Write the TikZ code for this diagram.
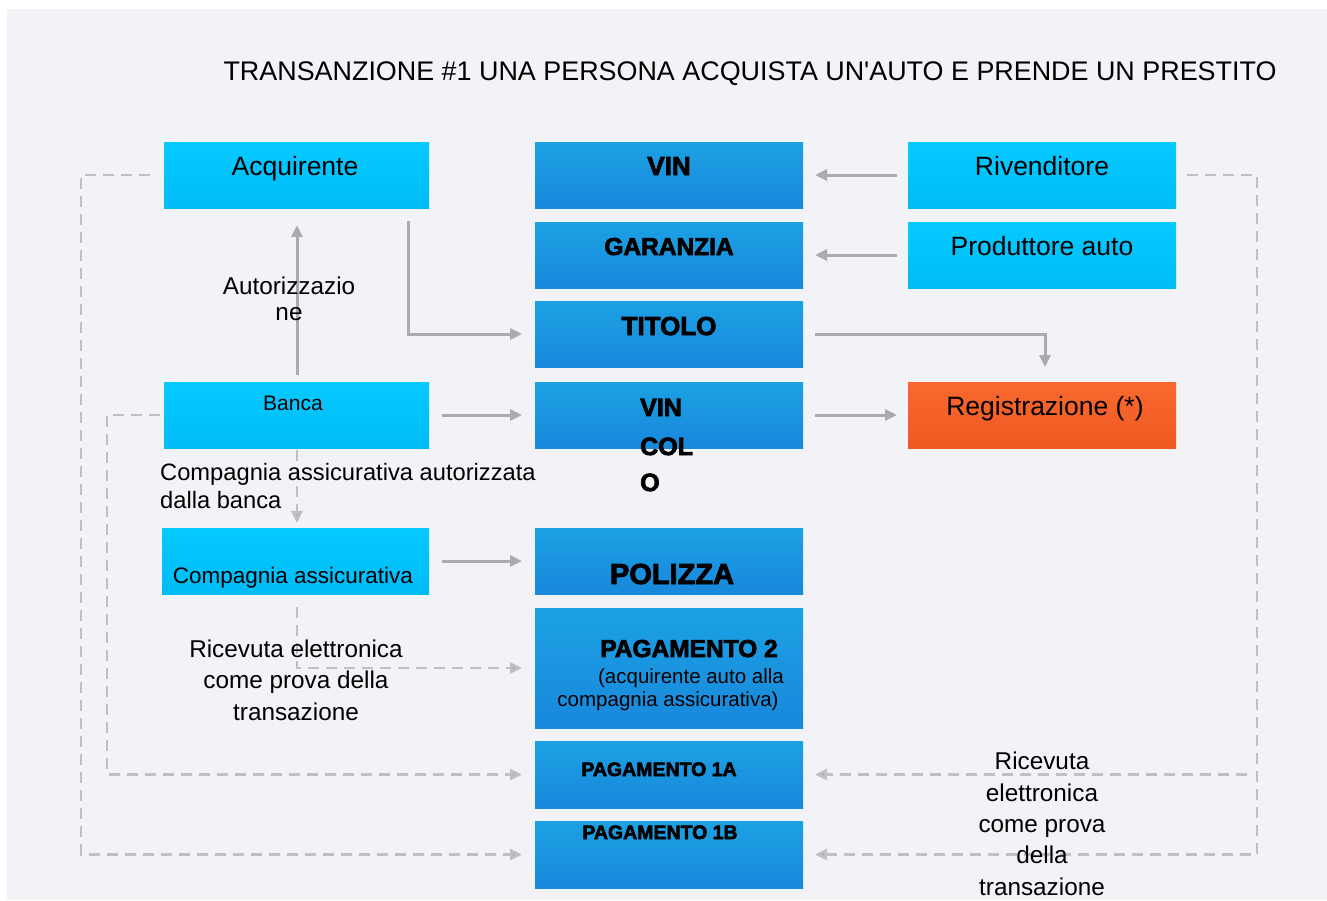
\documentclass[tikz,border=0pt]{standalone}
\usepackage{fontspec}
\setmainfont{Liberation Sans}
\newfontfamily\heavy[FakeBold=3]{Liberation Sans Bold}
\usetikzlibrary{arrows.meta}
\definecolor{bg}{HTML}{F2F3F7}
\definecolor{lbtop}{HTML}{05CAFF}
\definecolor{lbbot}{HTML}{00BBF6}
\definecolor{mbtop}{HTML}{1CA1E3}
\definecolor{mbbot}{HTML}{1888DC}
\definecolor{ortop}{HTML}{F8682F}
\definecolor{orbot}{HTML}{F05A22}
\definecolor{sline}{HTML}{ABABAE}
\definecolor{dline}{HTML}{C0C0C2}
\begin{document}
\begin{tikzpicture}[x=1pt,y=-1pt,
  boxbase/.style={rectangle,inner sep=0pt,outer sep=0pt,anchor=north west,draw=none},
  lbox/.style={boxbase,top color=lbtop,bottom color=lbbot},
  mbox/.style={boxbase,top color=mbtop,bottom color=mbbot},
  obox/.style={boxbase,top color=ortop,bottom color=orbot},
  txt/.style={anchor=base,inner sep=0pt,text=black},
  bigtxt/.style={txt,font=\fontsize{26.5}{30}\selectfont},
  lbltxt/.style={txt,font=\fontsize{24.3}{30}\selectfont},
  heavytxt/.style={txt,font=\heavy\fontsize{26}{30}\selectfont},
  sarr/.style={draw=sline,line width=3pt,-{Triangle[length=12pt,width=11pt]}},
  darr/.style={draw=dline,line width=2.8pt,dash pattern=on 11pt off 7pt,-{Triangle[length=12pt,width=11pt,fill=sline]}}
]
\useasboundingbox (0,0) rectangle (1327,900);
\fill[white] (0,0) rectangle (1327,900);
\fill[bg] (7,9) rectangle (1327,900);

% title
\node[bigtxt,font=\fontsize{26.9}{30}\selectfont] (title) at (750,80) {TRANSANZIONE \#1 UNA PERSONA ACQUISTA UN\textquotesingle AUTO E PRENDE UN PRESTITO};

% left boxes
\node[lbox,minimum width=265pt,minimum height=66pt] (acq) at (164,142) {};
\node[lbox,minimum width=265pt,minimum height=66pt] (banca) at (164,382) {};
\node[lbox,minimum width=267pt,minimum height=66pt] (comp) at (162,528) {};
% middle boxes
\node[mbox,minimum width=268pt,minimum height=66pt] (vin) at (535,142) {};
\node[mbox,minimum width=268pt,minimum height=66pt] (gar) at (535,222) {};
\node[mbox,minimum width=268pt,minimum height=66pt] (tit) at (535,301) {};
\node[mbox,minimum width=268pt,minimum height=66pt] (vinc) at (535,382) {};
\node[mbox,minimum width=268pt,minimum height=66pt] (pol) at (535,528) {};
\node[mbox,minimum width=268pt,minimum height=120pt] (pag2) at (535,608) {};
\node[mbox,minimum width=268pt,minimum height=67pt] (pag1a) at (535,741) {};
\node[mbox,minimum width=268pt,minimum height=67pt] (pag1b) at (535,821) {};
% right boxes
\node[lbox,minimum width=268pt,minimum height=66pt] (riv) at (908,142) {};
\node[lbox,minimum width=268pt,minimum height=66pt] (prod) at (908,222) {};
\node[obox,minimum width=268pt,minimum height=66pt] (reg) at (908,382) {};

% box texts
\node[bigtxt] (tacq) at (295,175) {Acquirente};
\node[txt,font=\fontsize{21}{24}\selectfont] (tbanca) at (293,410) {Banca};
\node[txt,font=\fontsize{22.5}{26}\selectfont] (tcomp) at (293,583) {Compagnia assicurativa};
\node[heavytxt] (tvin) at (669,175) {VIN};
\node[heavytxt,font=\heavy\fontsize{24.5}{30}\selectfont] (tgar) at (669,255) {GARANZIA};
\node[heavytxt] (ttit) at (669,335) {TITOLO};
\node[heavytxt,anchor=base west,font=\heavy\fontsize{25}{30}\selectfont] (tvinc1) at (640,416) {VIN};
\node[heavytxt,anchor=base west,font=\heavy\fontsize{25}{30}\selectfont] (tvinc2) at (640,455) {COL};
\node[heavytxt,anchor=base west,font=\heavy\fontsize{25}{30}\selectfont] (tvinc3) at (640,491) {O};
\node[heavytxt,font=\heavy\fontsize{29}{32}\selectfont] (tpol) at (672,584) {POLIZZA};
\node[heavytxt,font=\heavy\fontsize{24.5}{30}\selectfont] (tpag2) at (689,657) {PAGAMENTO 2};
\node[txt,font=\fontsize{20.5}{24}\selectfont] (tpag2b) at (691,683) {(acquirente auto alla};
\node[txt,font=\fontsize{20.5}{24}\selectfont] (tpag2c) at (668,706) {compagnia assicurativa)};
\node[heavytxt,font=\heavy\fontsize{19.5}{24}\selectfont] (tpag1a) at (659,776) {PAGAMENTO 1A};
\node[heavytxt,font=\heavy\fontsize{19.5}{24}\selectfont] (tpag1b) at (660,839) {PAGAMENTO 1B};
\node[bigtxt] (triv) at (1042,175) {Rivenditore};
\node[bigtxt] (tprod) at (1042,255) {Produttore auto};
\node[bigtxt] (treg) at (1045,415) {Registrazione (*)};

% connector coordinates
\coordinate (lc1) at (81,0);
\coordinate (lc2) at (107,0);
\coordinate (rc) at (1257,0);

% solid connectors
\draw[sarr,shorten <=11pt,shorten >=12pt] (riv.west) -- (vin.east);
\draw[sarr,shorten <=11pt,shorten >=12pt] (prod.west) -- (gar.east);
\draw[sarr,shorten <=13pt,shorten >=13pt] ([xshift=-21pt]acq.south east) |- (tit.west);
\draw[sarr,shorten <=12pt,shorten >=15pt] (tit.east) -| ([xshift=3pt]reg.north);
\draw[sarr,shorten <=13pt,shorten >=13pt] (banca.east) -- (vinc.west);
\draw[sarr,shorten <=12pt,shorten >=11pt] (vinc.east) -- (reg.west);
\draw[sarr,shorten <=7pt,shorten >=17pt] ([xshift=0.5pt]banca.north) -- ([xshift=0.5pt]acq.south);
\draw[sarr,shorten <=13pt,shorten >=13pt] (comp.east) -- (pol.west);

% dashed connectors
\draw[darr,shorten <=2pt,shorten >=5pt] ([xshift=0.5pt]banca.south) -- ([xshift=0.5pt]banca.south |- comp.north);
\draw[darr,shorten <=13pt,shorten >=13pt] ([xshift=1.5pt]comp.south) |- (pag2.west);
\draw[darr,shorten <=14pt,shorten >=13pt] (acq.west) -- (acq.west -| lc1) |- (pag1b.west);
\draw[darr,shorten <=4pt,shorten >=13pt] (banca.west) -- (banca.west -| lc2) |- (pag1a.west);
\draw[darr,shorten <=11pt,shorten >=12pt] (riv.east) -- (riv.east -| rc) |- (pag1b.east);
\draw[darr,shorten <=10pt,shorten >=12pt] (rc |- pag1a.east) -- (pag1a.east);

% labels
\node[lbltxt] (la1) at (289,294) {Autorizzazio};
\node[lbltxt] (la2) at (289,320) {ne};
\node[lbltxt,anchor=base west,font=\fontsize{23.7}{28}\selectfont] (lb1) at (160,480) {Compagnia assicurativa autorizzata};
\node[lbltxt,anchor=base west,font=\fontsize{23.7}{28}\selectfont] (lb2) at (160,508) {dalla banca};
\node[lbltxt] (lc1t) at (296,657) {Ricevuta elettronica};
\node[lbltxt] (lc2t) at (296,688) {come prova della};
\node[lbltxt] (lc3t) at (296,720) {transazione};
\node[lbltxt] (ld1) at (1042,769) {Ricevuta};
\node[lbltxt] (ld2) at (1042,801) {elettronica};
\node[lbltxt] (ld3) at (1042,832) {come prova};
\node[lbltxt] (ld4) at (1042,863) {della};
\node[lbltxt] (ld5) at (1042,895) {transazione};
\end{tikzpicture}
\end{document}
